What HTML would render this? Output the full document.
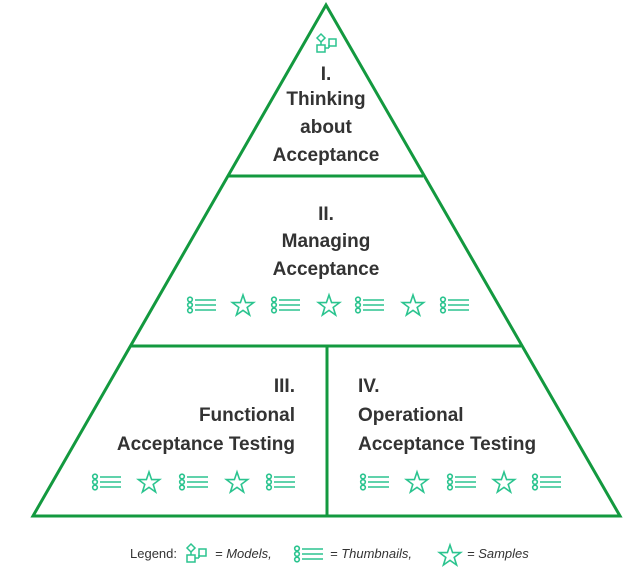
<!DOCTYPE html>
<html><head><style>body{margin:0;background:#fff}svg{display:block}</style></head><body>
<svg width="640" height="570" xmlns="http://www.w3.org/2000/svg">
<defs>
<g id="L" fill="none" stroke="#2bc48f" stroke-width="1.6">
<circle cx="3" cy="2.5" r="2.3"/><circle cx="3" cy="8" r="2.3"/><circle cx="3" cy="13.5" r="2.3"/>
<line x1="8" y1="3" x2="29" y2="3"/><line x1="8" y1="8" x2="29" y2="8"/><line x1="8" y1="13" x2="29" y2="13"/>
</g>
<g id="S"><polygon fill="none" stroke="#2bc48f" stroke-width="1.6" points="11,0 13.6,7.6 21.6,7.6 15.2,12.4 17.6,20 11,15.4 4.4,20 6.8,12.4 0.4,7.6 8.4,7.6"/></g>
<g id="M" fill="none" stroke="#2bc48f" stroke-width="1.5">
<polygon points="5,0 9,4 5,8 1,4"/><line x1="5" y1="8" x2="5" y2="11"/><rect x="1" y="11" width="8" height="7"/><line x1="9" y1="14" x2="13" y2="14"/><line x1="13" y1="14" x2="13" y2="11"/><rect x="13" y="5" width="7" height="7"/>
</g>
</defs>
<g fill="none" stroke="#13993f" stroke-width="3">
<polygon points="326,5 620,516 33,516"/>
<line x1="229" y1="176" x2="423" y2="176"/>
<line x1="131" y1="346" x2="521" y2="346"/>
<line x1="327" y1="346" x2="327" y2="516"/>
</g>
<use href="#M" x="316" y="34"/>
<g font-family="Liberation Sans, sans-serif" font-weight="bold" font-size="19" fill="#333">
<g text-anchor="middle">
<text x="326" y="80">I.</text><text x="326" y="105">Thinking</text><text x="326" y="133">about</text><text x="326" y="161">Acceptance</text>
<text x="326" y="220">II.</text><text x="326" y="247">Managing</text><text x="326" y="275">Acceptance</text>
</g>
<g text-anchor="end"><text x="295" y="392">III.</text><text x="295" y="421">Functional</text><text x="295" y="450">Acceptance Testing</text></g>
<text x="358" y="392">IV.</text><text x="358" y="421">Operational</text><text x="358" y="450">Acceptance Testing</text>
</g>
<use href="#L" x="187" y="297"/><use href="#S" x="232" y="295"/><use href="#L" x="271" y="297"/><use href="#S" x="318" y="295"/><use href="#L" x="355" y="297"/><use href="#S" x="402" y="295"/><use href="#L" x="440" y="297"/>
<use href="#L" x="92" y="474"/><use href="#S" x="138" y="472"/><use href="#L" x="179" y="474"/><use href="#S" x="226" y="472"/><use href="#L" x="266" y="474"/>
<use href="#L" x="360" y="474"/><use href="#S" x="406" y="472"/><use href="#L" x="447" y="474"/><use href="#S" x="493" y="472"/><use href="#L" x="532" y="474"/>
<g font-family="Liberation Sans, sans-serif" font-size="13" fill="#333">
<text x="177" y="558" text-anchor="end">Legend:</text>
<text x="215" y="558" font-style="italic">= Models,</text>
<text x="330" y="558" font-style="italic">= Thumbnails,</text>
<text x="467" y="558" font-style="italic">= Samples</text>
</g>
<use href="#M" x="186" y="544"/>
<use href="#L" x="294" y="546"/>
<use href="#S" x="439" y="545"/>
</svg>
</body></html>
